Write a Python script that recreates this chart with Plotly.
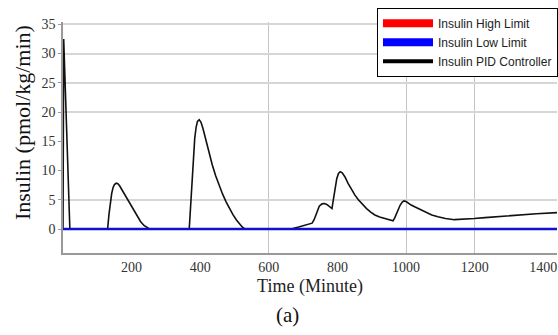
import plotly.graph_objects as go

# Data
time_min = [0, 2, 20,
            130, 134, 138, 142, 146, 150, 155, 160, 165, 172, 180, 189, 198, 207, 216, 226, 236, 245, 252,
            368, 372, 376, 380, 384, 388, 392, 397, 402, 408, 415, 425, 435, 445, 455, 465, 475, 485,
            495, 505, 515, 523, 530,
            650, 670, 687, 705, 726, 732, 740, 747, 755, 762, 769, 777, 784, 788, 793, 798, 803, 808,
            814, 822, 831, 841, 851, 861, 873, 885, 897, 909, 923, 938, 950, 962, 967, 972, 977, 983,
            989, 994, 1000, 1007, 1015, 1025, 1035, 1047, 1060, 1075, 1093, 1115, 1141, 1170, 1199,
            1230, 1260, 1290, 1325, 1380, 1440]
insulin_pid = [0, 32.5, 0,
               0, 2.5, 4.6, 6.1, 7.1, 7.6, 7.85, 7.75, 7.4, 6.7, 5.9, 5.1, 4.1, 3.1, 2.2, 1.3, 0.6, 0.2, 0,
               0, 4.0, 8.5, 12.5, 15.5, 17.4, 18.4, 18.7, 18.3, 17.2, 15.5, 13.2, 11.0, 9.1, 7.5, 6.0, 4.7, 3.5,
               2.5, 1.6, 0.8, 0.3, 0,
               0, 0.1, 0.35, 0.6, 1.0, 1.6, 3.0, 3.9, 4.3, 4.35, 4.2, 3.9, 3.5, 5.0, 7.0, 8.6, 9.5, 9.8,
               9.6, 8.9, 7.8, 6.7, 5.8, 5.0, 4.2, 3.5, 2.9, 2.4, 2.05, 1.8, 1.6, 1.4, 1.9, 2.6, 3.3, 4.1,
               4.6, 4.8, 4.7, 4.4, 4.1, 3.8, 3.5, 3.1, 2.75, 2.4, 2.1, 1.8, 1.6, 1.65, 1.8,
               1.95, 2.1, 2.25, 2.4, 2.6, 2.8]
low_limit_t = [0, 1440]
low_limit = [0, 0]

x_ticks = [200, 400, 600, 800, 1000, 1200, 1400]
y_ticks = [0, 5, 10, 15, 20, 25, 30, 35]
x_grid = [600, 1000, 1200]
y_grid = [5, 20, 25, 30, 35]

x_range = [0, 1440]
y_range = [-4.1, 35.4]

serif = "Liberation Serif, Times New Roman, serif"

fig = go.Figure()

# gridline overlay axes
fig.add_trace(go.Scatter(x=[None], y=[None], xaxis="x2", yaxis="y2",
                         showlegend=False, hoverinfo="skip"))

fig.add_trace(go.Scatter(x=time_min, y=insulin_pid, mode="lines",
                         line=dict(color="#111111", width=1.6),
                         showlegend=False))
fig.add_trace(go.Scatter(x=low_limit_t, y=low_limit, mode="lines",
                         line=dict(color="#1010d0", width=2.5), showlegend=False))

# legend entries
fig.add_trace(go.Scatter(x=[None], y=[None], mode="lines", name="Insulin High Limit",
                         line=dict(color="#ff0000", width=8)))
fig.add_trace(go.Scatter(x=[None], y=[None], mode="lines", name="Insulin Low Limit",
                         line=dict(color="#0000ff", width=8)))
fig.add_trace(go.Scatter(x=[None], y=[None], mode="lines", name="Insulin PID Controller",
                         line=dict(color="#000000", width=4)))

fig.update_layout(
    width=558, height=335,
    margin=dict(l=63, r=0, t=22, b=82),
    paper_bgcolor="white", plot_bgcolor="white",
    showlegend=True,
    legend=dict(x=0.636, y=1.062, xanchor="left", yanchor="top",
                bgcolor="white", bordercolor="#000000", borderwidth=1,
                font=dict(family="Liberation Sans, Arial, sans-serif", size=12, color="#222"),
                itemwidth=50, tracegroupgap=0),
    xaxis=dict(range=x_range, tickvals=x_ticks, showgrid=False, zeroline=False,
               showline=True, linecolor="#999999", linewidth=1.5,
               ticks="", tickfont=dict(family=serif, size=14, color="#333"),
               title=dict(text="Time (Minute)", font=dict(family=serif, size=18, color="#222"),
                          standoff=6)),
    yaxis=dict(range=y_range, tickvals=y_ticks, showgrid=False, zeroline=False,
               showline=True, linecolor="#999999", linewidth=1.5,
               ticks="outside", ticklen=3, tickcolor="#999999",
               tickfont=dict(family=serif, size=14, color="#333")),
    xaxis2=dict(range=x_range, overlaying="x", tickvals=x_grid, showgrid=True,
                gridcolor="#c4c4c4", gridwidth=1, showticklabels=False,
                zeroline=False, showline=False, ticks=""),
    yaxis2=dict(range=y_range, overlaying="y", tickvals=y_grid, showgrid=True,
                gridcolor="#d6d6d6", gridwidth=1.5, showticklabels=False,
                zeroline=False, showline=False, ticks=""),
    annotations=[
        dict(text="Insulin (pmol/kg/min)", textangle=-90, xref="paper", yref="paper",
             x=-0.083, y=0.567, xanchor="center", yanchor="middle", showarrow=False,
             font=dict(family=serif, size=22, color="#111")),
        dict(text="(a)", xref="paper", yref="paper", x=0.455, y=-0.268,
             xanchor="center", yanchor="middle", showarrow=False,
             font=dict(family=serif, size=21, color="#111")),
    ],
)

fig.write_html("out.html")
